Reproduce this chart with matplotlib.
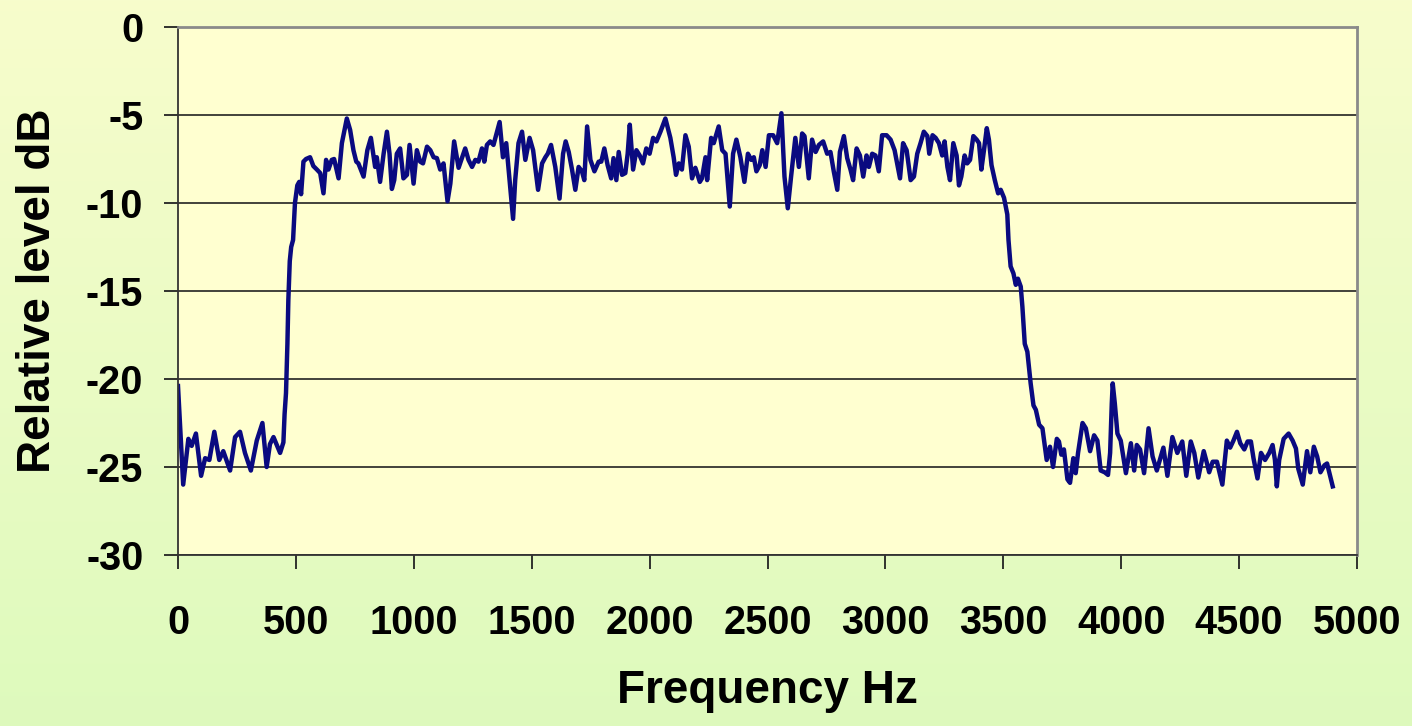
import matplotlib.pyplot as plt
import numpy as np

plt.rc("font", family=["Liberation Sans", "DejaVu Sans"], weight="bold")
plt.rc("axes", unicode_minus=False)

# lower stop band + rising edge
low_hz = [0, 22, 44, 58, 76, 98, 115, 133, 154, 175,
          192, 221, 242, 263, 284, 309, 334, 358, 376, 390,
          405, 419, 433, 447, 452, 458, 464, 468, 474, 480,
          488, 496, 506, 514, 522]
low_db = [-20.4, -26.0, -23.4, -23.8, -23.1, -25.5, -24.5, -24.6, -23.0, -24.6,
          -24.1, -25.2, -23.3, -23.0, -24.2, -25.2, -23.5, -22.5, -25.0, -23.7,
          -23.3, -23.75, -24.2, -23.6, -22.0, -20.8, -18.0, -15.5, -13.3, -12.5,
          -12.1, -10.0, -9.0, -8.8, -9.5]

# pass band
pass_hz = [532, 543, 560, 574, 589, 603, 617, 628, 638, 652,
           662, 681, 695, 716, 730, 744, 756, 765, 787, 803,
           818, 836, 843, 857, 872, 886, 897, 907, 917, 928,
           942, 956, 971, 982, 999, 1013, 1027, 1039, 1056, 1070,
           1084, 1098, 1112, 1126, 1143, 1155, 1171, 1190, 1204, 1218,
           1232, 1247, 1261, 1274, 1289, 1299, 1310, 1324, 1338, 1353,
           1364, 1378, 1392, 1406, 1421, 1430, 1444, 1459, 1473, 1491,
           1506, 1527, 1544, 1558, 1568, 1582, 1600, 1618, 1633, 1644,
           1657, 1671, 1685, 1699, 1713, 1723, 1735, 1749, 1766, 1784,
           1795, 1808, 1822, 1837, 1847, 1859, 1869, 1883, 1897, 1907,
           1916, 1930, 1944, 1958, 1972, 1986, 2000, 2015, 2029, 2046,
           2067, 2088, 2102, 2112, 2124, 2137, 2152, 2166, 2180, 2194,
           2213, 2222, 2237, 2244, 2261, 2272, 2293, 2308, 2322, 2340,
           2354, 2368, 2385, 2402, 2417, 2431, 2442, 2453, 2467, 2478,
           2492, 2506, 2524, 2541, 2559, 2572, 2586, 2600, 2618, 2633,
           2647, 2657, 2675, 2689, 2704, 2718, 2736, 2753, 2767, 2781,
           2796, 2807, 2824, 2838, 2852, 2863, 2878, 2892, 2906, 2920,
           2930, 2944, 2958, 2972, 2986, 3005, 3022, 3039, 3062, 3075,
           3090, 3107, 3121, 3135, 3149, 3163, 3178, 3186, 3200, 3213,
           3227, 3241, 3251, 3263, 3274, 3288, 3302, 3312, 3322, 3336,
           3347, 3359, 3373, 3387, 3397, 3407, 3418, 3430, 3439, 3450,
           3464, 3478, 3489, 3503]
pass_db = [-7.65, -7.5, -7.4, -7.9, -8.1, -8.3, -9.45, -7.55, -8.1, -7.55,
           -7.5, -8.6, -6.6, -5.2, -5.85, -7.0, -7.65, -7.75, -8.5, -7.0,
           -6.3, -7.95, -7.4, -8.8, -7.2, -5.95, -7.2, -9.2, -8.7, -7.2,
           -6.9, -8.6, -8.4, -6.7, -8.9, -7.0, -7.65, -7.75, -6.8, -7.0,
           -7.4, -7.45, -8.1, -7.75, -9.9, -8.9, -6.5, -8.0, -7.45, -6.9,
           -7.55, -7.95, -7.55, -7.65, -6.9, -7.65, -6.7, -6.5, -6.7, -5.95,
           -5.4, -7.4, -6.6, -8.7, -10.9, -8.7, -6.6, -5.95, -7.55, -6.3,
           -7.0, -9.25, -7.75, -7.4, -7.2, -6.7, -7.95, -9.75, -7.2, -6.5,
           -7.1, -8.1, -9.25, -7.95, -8.2, -8.7, -5.65, -7.55, -8.2, -7.65,
           -7.65, -6.9, -7.85, -8.6, -7.45, -8.7, -7.1, -8.4, -8.3, -7.2,
           -5.55, -8.1, -7.0, -7.3, -7.75, -6.9, -7.2, -6.3, -6.5, -5.95,
           -5.2, -6.3, -7.4, -8.4, -7.75, -8.1, -6.15, -6.8, -8.6, -8.0,
           -8.8, -8.6, -7.4, -8.7, -6.3, -6.6, -5.65, -7.0, -7.2, -10.2,
           -7.2, -6.4, -7.4, -8.8, -7.2, -7.55, -7.4, -8.2, -7.85, -7.0,
           -7.95, -6.15, -6.15, -6.6, -4.9, -8.5, -10.3, -8.5, -6.3, -7.95,
           -6.05, -6.2, -8.6, -6.4, -7.1, -6.7, -6.5, -7.2, -7.1, -8.2,
           -9.25, -7.1, -6.2, -7.45, -8.1, -8.7, -6.9, -7.3, -8.5, -7.3,
           -7.95, -7.2, -7.3, -8.2, -6.15, -6.15, -6.4, -7.0, -8.6, -6.6,
           -7.0, -8.7, -8.5, -7.2, -6.6, -5.95, -6.2, -7.2, -6.15, -6.3,
           -6.6, -7.3, -6.5, -7.95, -8.7, -6.6, -7.3, -9.0, -8.5, -7.3,
           -7.75, -7.55, -6.2, -6.4, -6.6, -8.1, -7.0, -5.75, -6.4, -7.85,
           -8.7, -9.45, -9.25, -9.7]

# falling edge + upper stop band
high_hz = [3517, 3522, 3531, 3543, 3553, 3562, 3574, 3581, 3591, 3602,
           3616, 3628, 3638, 3652, 3666, 3684, 3698, 3711, 3727, 3736,
           3746, 3757, 3772, 3783, 3797, 3807, 3817, 3836, 3850, 3868,
           3885, 3899, 3913, 3930, 3944, 3953, 3960, 3964, 3973, 3984,
           3998, 4020, 4041, 4055, 4066, 4080, 4097, 4116, 4133, 4151,
           4168, 4179, 4196, 4217, 4238, 4259, 4276, 4295, 4310, 4327,
           4350, 4364, 4373, 4388, 4406, 4429, 4448, 4462, 4476, 4491,
           4505, 4522, 4536, 4550, 4561, 4578, 4593, 4610, 4628, 4642,
           4652, 4660, 4670, 4689, 4710, 4727, 4741, 4751, 4770, 4788,
           4802, 4817, 4831, 4845, 4862, 4873, 4897]
high_db = [-10.65, -12.1, -13.6, -14.0, -14.65, -14.3, -14.75, -15.9, -18.0, -18.45,
           -20.25, -21.5, -21.75, -22.6, -22.8, -24.6, -23.85, -25.0, -23.4, -23.55,
           -24.3, -24.0, -25.7, -25.9, -24.5, -25.35, -24.2, -22.5, -22.8, -24.1,
           -23.2, -23.5, -25.2, -25.3, -25.45, -24.2, -21.4, -20.25, -21.4, -23.1,
           -23.5, -25.35, -23.65, -25.2, -23.75, -24.0, -25.35, -22.8, -24.4, -25.2,
           -24.4, -23.9, -25.5, -23.3, -24.2, -23.55, -25.5, -23.55, -24.2, -25.6,
           -24.1, -24.8, -25.3, -24.7, -24.7, -26.0, -23.5, -23.9, -23.5, -23.0,
           -23.65, -24.0, -23.55, -23.55, -24.5, -25.65, -24.2, -24.6, -24.2, -23.75,
           -24.6, -26.1, -24.6, -23.4, -23.1, -23.5, -23.95, -25.1, -26.0, -24.1,
           -25.3, -23.85, -24.4, -25.3, -24.9, -24.8, -26.1]

freq = np.array(low_hz + pass_hz + high_hz)
level = np.array(low_db + pass_db + high_db)

W, H = 1412, 726
fig = plt.figure(figsize=(W / 100, H / 100), dpi=100)

# background gradient, pale yellow at top to pale green at bottom
bg = fig.add_axes([0, 0, 1, 1], zorder=-10)
top = np.array([0.97, 0.99, 0.80])
bot = np.array([0.87, 0.98, 0.74])
t = np.linspace(0, 1, 256)[:, None, None]
grad = top * (1 - t) + bot * t
grad = np.repeat(grad, 2, axis=1)
bg.imshow(grad, aspect="auto", extent=[0, 1, 0, 1])
bg.axis("off")

ax = fig.add_axes([178 / W, (H - 555) / H, 1179 / W, 528 / H])
ax.set_facecolor("#ffffd0")
ax.plot(freq, level, color="#0a0a80", lw=3.2, solid_joinstyle="round")

ax.set_xlim(0, 5000)
ax.set_ylim(-30, 0)
ax.set_xticks(np.arange(0, 5001, 500))
ax.set_yticks(np.arange(-30, 1, 5))
ax.grid(axis="y", color="#222222", lw=1.2)
ax.set_axisbelow(True)

for side in ["top", "right"]:
    ax.spines[side].set_color("#8a8a8a")
    ax.spines[side].set_linewidth(2)
for side in ["left", "bottom"]:
    ax.spines[side].set_color("#333333")
    ax.spines[side].set_linewidth(1.3)

ax.tick_params(axis="both", direction="out", length=10, width=1.3, colors="#222222",
               labelcolor="black", labelsize=28.5)
ax.tick_params(axis="y", pad=15)
ax.tick_params(axis="x", pad=25)

ax.set_xlabel("Frequency Hz", fontsize=33, fontweight="bold", labelpad=20)
ax.set_ylabel("Relative level dB", fontsize=33, fontweight="bold", labelpad=19)

fig.savefig("out.png", dpi=100)
